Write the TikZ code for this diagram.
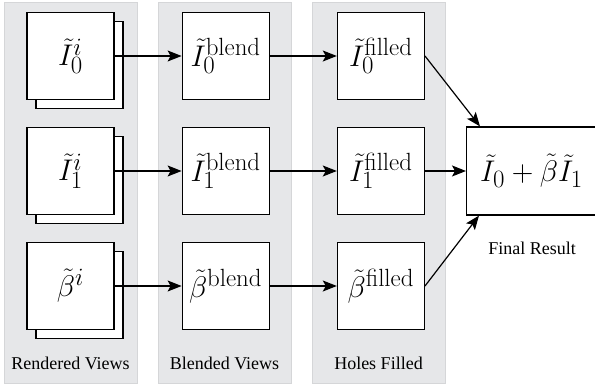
\documentclass[tikz,border=0pt]{standalone}
\usepackage[no-math]{fontspec}
\newfontfamily\stagefont{Liberation Serif}
\usetikzlibrary{arrows.meta,positioning}

\definecolor{colgray}{HTML}{E6E7E9}
\definecolor{colborder}{HTML}{D5D6D8}

% math in the boxes is set at \Huge and blown up a little more
\newcommand{\boxmath}[1]{\scalebox{1.2}{$#1$}}

\tikzset{
    column/.style={fill=colgray, draw=colborder, line width=1pt},
    imgbox/.style={draw, fill=white, line width=1.2pt, minimum size=87pt,
        inner sep=0pt, font=\Huge},
    colname/.style={font=\stagefont\fontsize{18}{20}\selectfont, inner sep=0pt},
    flow/.style={-{Stealth[length=14pt,width=11pt,inset=3pt]}, line width=1.2pt},
}

\begin{document}
\begin{tikzpicture}[x=1pt,y=1pt]
    \useasboundingbox (0,0) rectangle (595,388);

    % Grey bands behind the three stages
    \foreach \cx in {70.5,224.5,378.5} {
        \draw[column] (\cx-66.5,4) rectangle (\cx+66.5,385);
    }

    % One row per quantity: rendered stack, blended, filled
    \foreach \r/\y/\q in {0/332/\tilde{I}_0, 1/217/\tilde{I}_1, 2/102/\tilde{\beta}} {
        \node[imgbox] (back\r) at (79.5,\y-9) {};
        \node[imgbox] (ren\r) at (70.5,\y) {\boxmath{\q^{i}}};
        \node[imgbox, right=67pt of ren\r] (bl\r) {\boxmath{\q^{\mathrm{blend}}}};
        \node[imgbox, right=67pt of bl\r] (fil\r) {\boxmath{\q^{\mathrm{filled}}}};
        \draw[flow] (ren\r) -- (bl\r);
        \draw[flow] (bl\r) -- (fil\r);
    }

    % Combined output
    \node[imgbox, minimum width=130pt, minimum height=88pt, anchor=west]
        (final) at (466,217) {\boxmath{\tilde{I}_0 + \tilde{\beta}\tilde{I}_1}};
    \node[colname] (finlabel) at (532,140) {Final Result};

    \draw[flow] (fil0.east) -- ([xshift=14pt]final.north west);
    \draw[flow] (fil1) -- (final);
    \draw[flow] (fil2.east) -- ([xshift=13pt]final.south west);

    % Stage names
    \node[colname, anchor=base] (renlabel) at (70.5,18) {Rendered Views};
    \node[colname, anchor=base] (bllabel) at (224.5,18) {Blended Views};
    \node[colname, anchor=base] (fillabel) at (378.5,18) {Holes Filled};
\end{tikzpicture}
\end{document}
